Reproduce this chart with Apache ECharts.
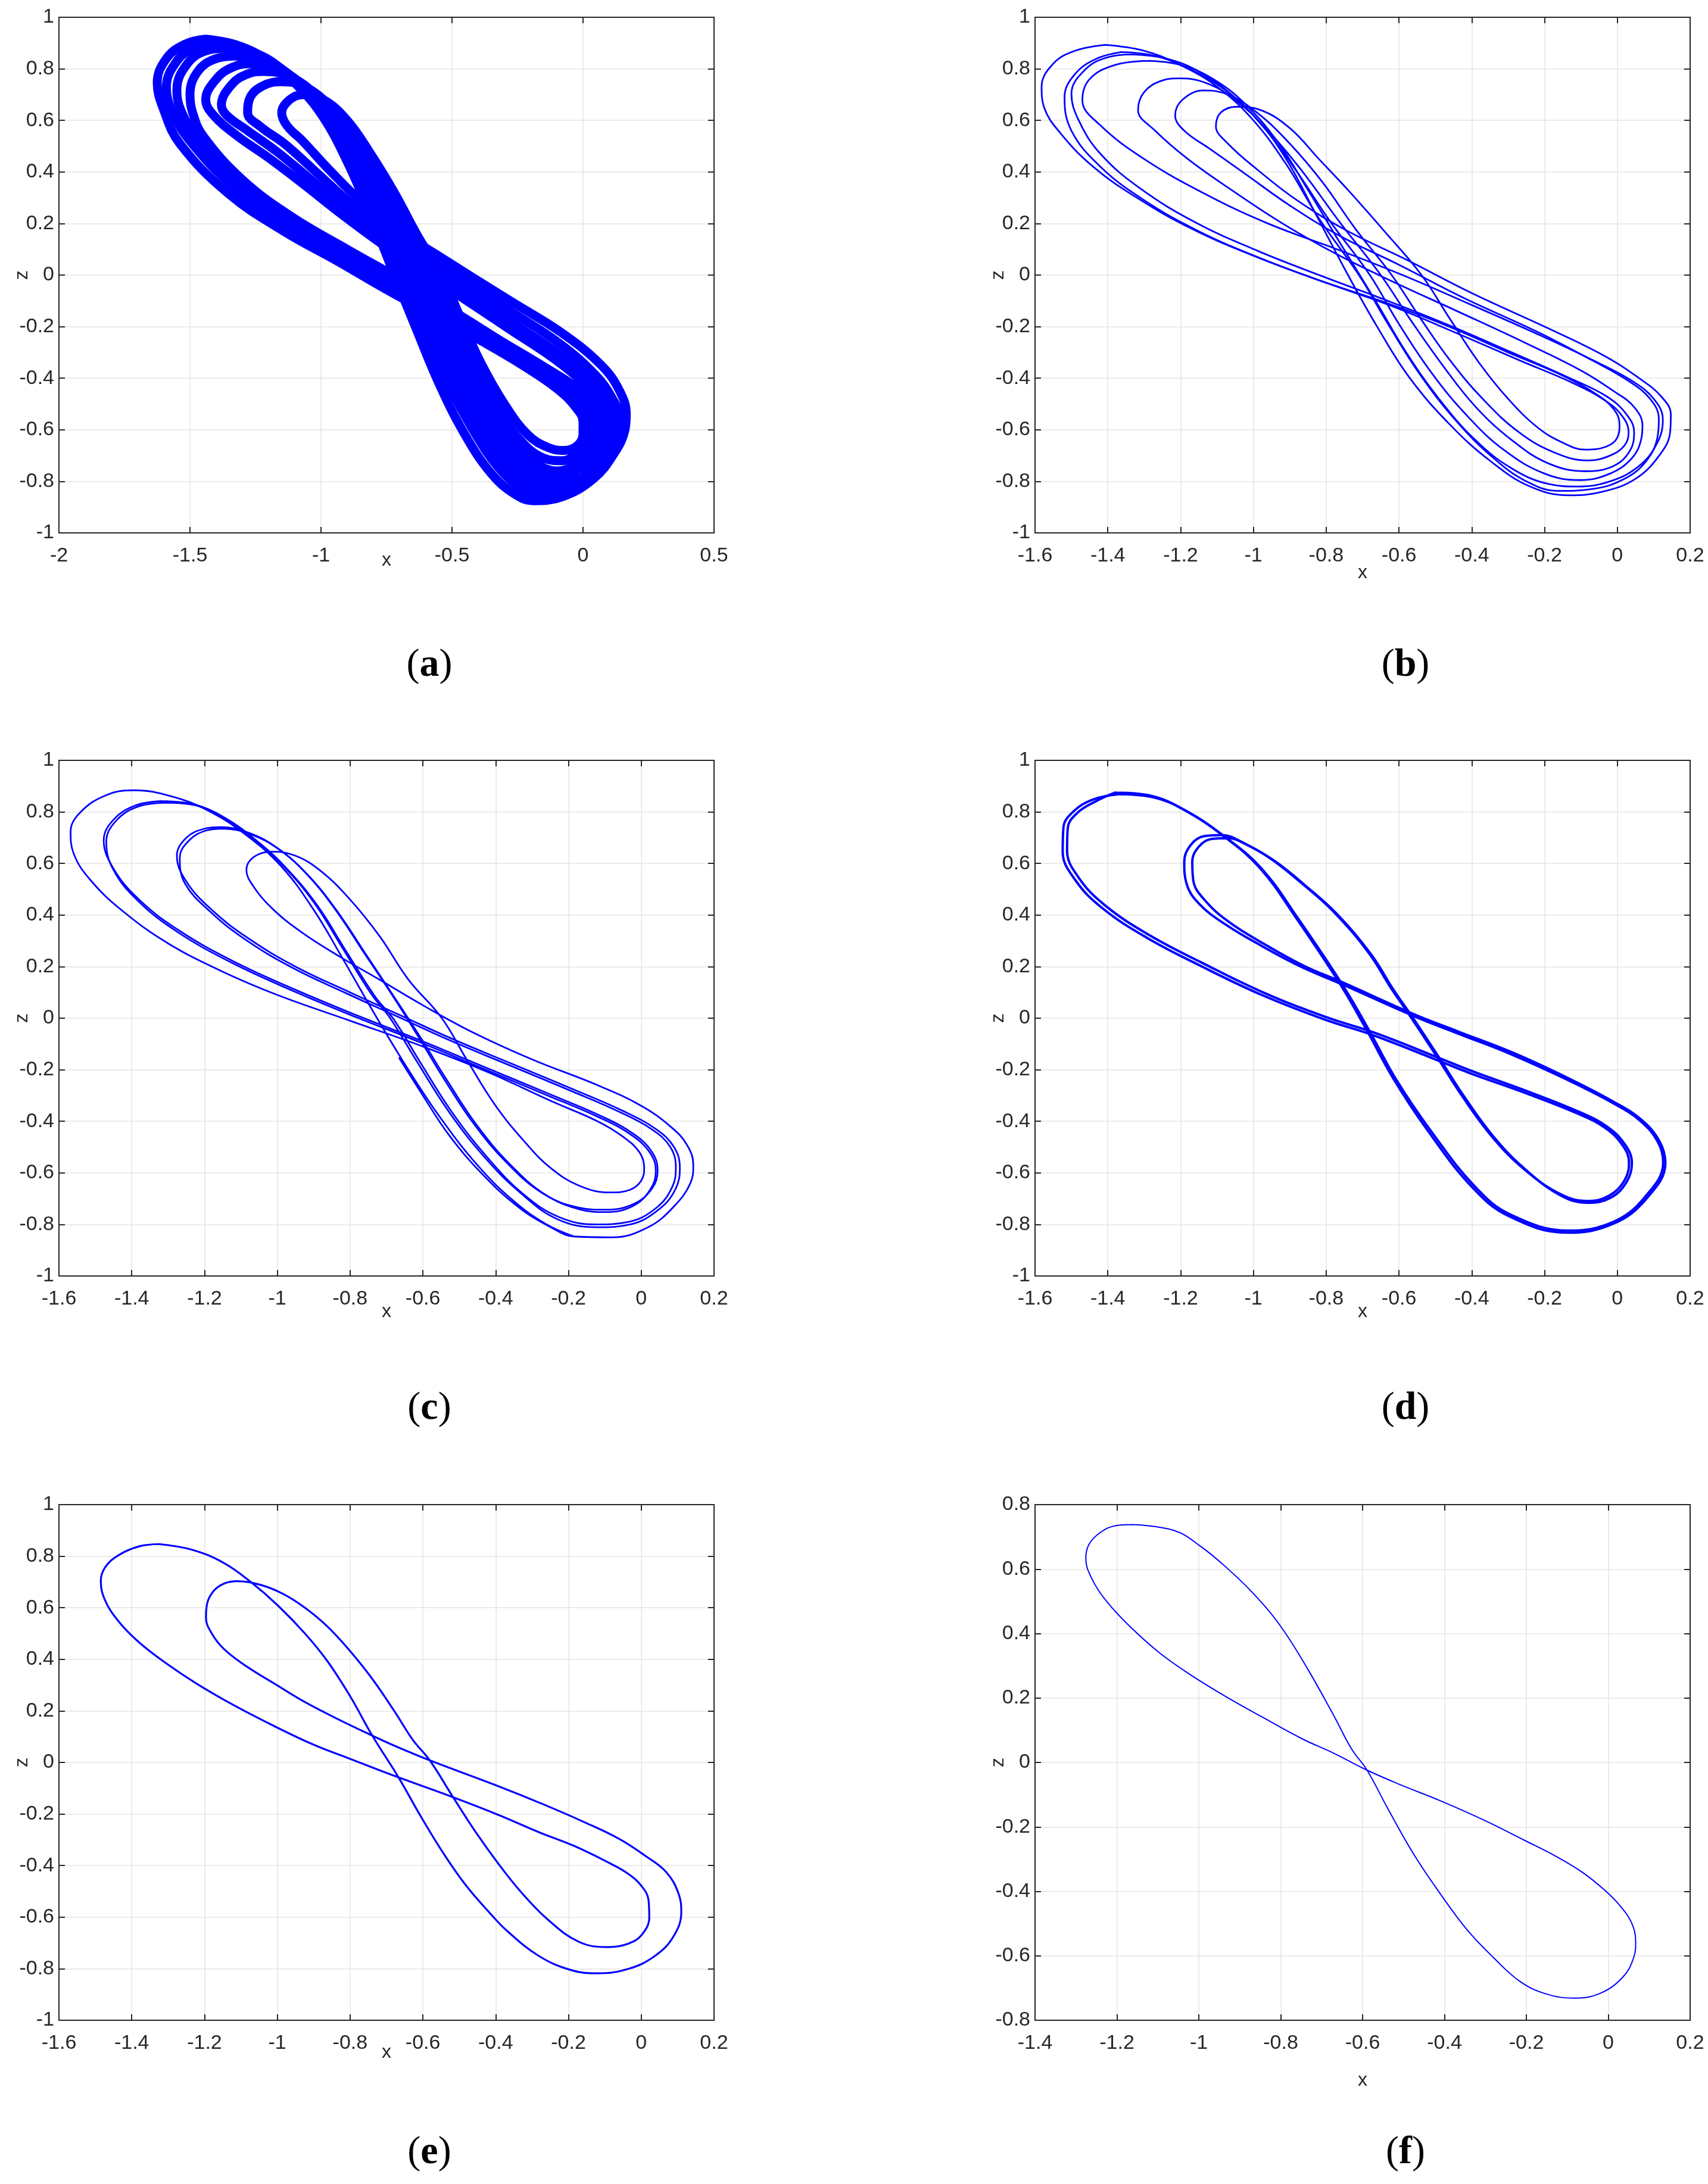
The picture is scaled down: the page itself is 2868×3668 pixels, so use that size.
<!DOCTYPE html>
<html>
<head>
<meta charset="utf-8">
<title>Phase portraits x-z</title>
<script src="https://cdn.jsdelivr.net/npm/echarts/dist/echarts.min.js"></script>
<style>
  body { margin: 0; background: #fff; }
  #main { width: 2868px; height: 3668px; }
</style>
</head>
<body>
<div id="main"></div>
<script>
// axis ranges: [min, max, interval]
var xRangeA = [-2, 0.5, 0.5];
var xRange16 = [-1.6, 0.2, 0.2];
var xRange14 = [-1.4, 0.2, 0.2];
var yRangeFull = [-1, 1, 0.2];
var yRange08 = [-0.8, 0.8, 0.2];
var panelLabels = ['a', 'b', 'c', 'd', 'e', 'f'];

// (a) dense chaotic band, traced as four two-turn orbits
var aOrbit1 = [[-1.440,0.915],[-1.320,0.892],[-1.200,0.830],[-1.090,0.735],[-0.990,0.610],[-0.900,0.440],[-0.810,0.230],[-0.720,0.000],[-0.640,-0.200],[-0.550,-0.420],[-0.450,-0.620],[-0.350,-0.770],[-0.260,-0.850],[-0.190,-0.875],[-0.080,-0.860],[0.040,-0.790],[0.120,-0.690],[0.160,-0.600],[0.165,-0.540],[0.140,-0.450],[0.070,-0.350],[-0.080,-0.225],[-0.270,-0.105],[-0.420,-0.010],[-0.560,0.080],[-0.700,0.170],[-0.840,0.280],[-0.970,0.410],[-1.070,0.520],[-1.130,0.580],[-1.150,0.630],[-1.120,0.680],[-1.070,0.700],[-0.990,0.680],[-0.900,0.600],[-0.810,0.470],[-0.720,0.320],[-0.630,0.150],[-0.540,0.000],[-0.470,-0.160],[-0.390,-0.340],[-0.300,-0.500],[-0.210,-0.620],[-0.130,-0.670],[-0.070,-0.680],[-0.020,-0.660],[0.000,-0.615],[0.000,-0.570],[-0.030,-0.510],[-0.100,-0.440],[-0.230,-0.350],[-0.380,-0.260],[-0.560,-0.160],[-0.726,-0.070],[-0.934,0.052],[-1.142,0.170],[-1.351,0.314],[-1.538,0.509],[-1.600,0.640],[-1.625,0.746],[-1.590,0.840],[-1.520,0.895],[-1.440,0.915]];
var aOrbit2 = [[-1.400,0.900],[-1.290,0.880],[-1.180,0.815],[-1.070,0.720],[-0.970,0.590],[-0.880,0.420],[-0.790,0.210],[-0.690,0.000],[-0.610,-0.200],[-0.520,-0.410],[-0.420,-0.600],[-0.320,-0.750],[-0.230,-0.830],[-0.160,-0.860],[-0.060,-0.845],[0.040,-0.780],[0.110,-0.690],[0.140,-0.610],[0.140,-0.560],[0.110,-0.475],[0.045,-0.385],[-0.090,-0.265],[-0.270,-0.145],[-0.440,-0.035],[-0.600,0.065],[-0.760,0.170],[-0.900,0.290],[-1.030,0.410],[-1.140,0.510],[-1.230,0.575],[-1.280,0.630],[-1.270,0.690],[-1.220,0.735],[-1.150,0.750],[-1.060,0.730],[-0.970,0.660],[-0.890,0.560],[-0.810,0.430],[-0.730,0.290],[-0.650,0.150],[-0.570,0.000],[-0.500,-0.160],[-0.420,-0.340],[-0.330,-0.510],[-0.240,-0.640],[-0.150,-0.710],[-0.080,-0.720],[-0.020,-0.690],[0.020,-0.640],[0.030,-0.580],[0.000,-0.510],[-0.070,-0.440],[-0.200,-0.350],[-0.370,-0.250],[-0.550,-0.140],[-0.720,-0.040],[-0.920,0.075],[-1.130,0.195],[-1.330,0.340],[-1.500,0.520],[-1.570,0.640],[-1.590,0.730],[-1.550,0.830],[-1.480,0.885],[-1.400,0.900]];
var aOrbit3 = [[-1.360,0.880],[-1.250,0.860],[-1.150,0.800],[-1.050,0.705],[-0.950,0.570],[-0.860,0.400],[-0.770,0.200],[-0.665,0.000],[-0.590,-0.200],[-0.500,-0.400],[-0.400,-0.590],[-0.300,-0.730],[-0.210,-0.810],[-0.140,-0.840],[-0.040,-0.820],[0.050,-0.750],[0.100,-0.660],[0.120,-0.570],[0.095,-0.490],[0.030,-0.410],[-0.100,-0.300],[-0.270,-0.185],[-0.440,-0.070],[-0.600,0.035],[-0.760,0.140],[-0.910,0.260],[-1.050,0.380],[-1.170,0.480],[-1.280,0.560],[-1.360,0.620],[-1.380,0.660],[-1.340,0.740],[-1.280,0.780],[-1.220,0.790],[-1.120,0.770],[-1.020,0.700],[-0.930,0.590],[-0.850,0.450],[-0.770,0.300],[-0.690,0.170],[-0.600,0.000],[-0.530,-0.160],[-0.450,-0.350],[-0.360,-0.520],[-0.270,-0.650],[-0.180,-0.730],[-0.100,-0.760],[-0.020,-0.730],[0.040,-0.660],[0.060,-0.580],[0.030,-0.510],[-0.040,-0.440],[-0.170,-0.355],[-0.350,-0.245],[-0.530,-0.130],[-0.710,-0.020],[-0.910,0.095],[-1.120,0.215],[-1.310,0.360],[-1.470,0.530],[-1.535,0.640],[-1.550,0.720],[-1.510,0.820],[-1.440,0.870],[-1.360,0.880]];
var aOrbit4 = [[-1.320,0.850],[-1.210,0.830],[-1.110,0.770],[-1.010,0.680],[-0.920,0.550],[-0.830,0.380],[-0.740,0.190],[-0.640,0.000],[-0.565,-0.200],[-0.480,-0.390],[-0.380,-0.570],[-0.280,-0.710],[-0.190,-0.790],[-0.120,-0.820],[-0.030,-0.800],[0.050,-0.730],[0.090,-0.650],[0.100,-0.580],[0.075,-0.500],[0.010,-0.425],[-0.110,-0.325],[-0.280,-0.210],[-0.450,-0.095],[-0.600,0.005],[-0.760,0.115],[-0.920,0.235],[-1.070,0.355],[-1.200,0.455],[-1.320,0.540],[-1.410,0.620],[-1.440,0.680],[-1.400,0.760],[-1.340,0.805],[-1.270,0.820],[-1.170,0.800],[-1.070,0.730],[-0.970,0.620],[-0.880,0.480],[-0.800,0.330],[-0.710,0.160],[-0.620,0.000],[-0.550,-0.170],[-0.470,-0.360],[-0.380,-0.540],[-0.290,-0.670],[-0.200,-0.750],[-0.110,-0.790],[-0.030,-0.760],[0.040,-0.690],[0.075,-0.620],[0.080,-0.580],[0.050,-0.510],[-0.020,-0.440],[-0.150,-0.355],[-0.330,-0.245],[-0.510,-0.130],[-0.700,-0.015],[-0.900,0.100],[-1.110,0.225],[-1.300,0.370],[-1.450,0.540],[-1.490,0.630],[-1.500,0.700],[-1.470,0.790],[-1.400,0.840],[-1.320,0.850]];

// (b)
var bOrbit1 = [[-1.407,0.893],[-1.300,0.870],[-1.200,0.815],[-1.100,0.740],[-1.000,0.620],[-0.910,0.450],[-0.830,0.240],[-0.740,0.000],[-0.660,-0.200],[-0.570,-0.400],[-0.460,-0.580],[-0.350,-0.720],[-0.240,-0.820],[-0.133,-0.854],[-0.040,-0.840],[0.050,-0.790],[0.115,-0.700],[0.145,-0.610],[0.147,-0.541],[0.120,-0.470],[0.060,-0.400],[-0.040,-0.310],[-0.200,-0.200],[-0.400,-0.070],[-0.580,0.060],[-0.740,0.170],[-0.880,0.290],[-0.990,0.410],[-1.070,0.510],[-1.103,0.577],[-1.090,0.630],[-1.047,0.653],[-0.980,0.640],[-0.900,0.570],[-0.820,0.450],[-0.740,0.330],[-0.640,0.170],[-0.538,0.000],[-0.460,-0.170],[-0.380,-0.340],[-0.300,-0.480],[-0.220,-0.590],[-0.150,-0.650],[-0.088,-0.677],[-0.030,-0.665],[0.000,-0.630],[0.006,-0.580],[-0.010,-0.520],[-0.060,-0.460],[-0.150,-0.390],[-0.300,-0.300],[-0.480,-0.190],[-0.650,-0.100],[-0.820,-0.020],[-1.000,0.075],[-1.170,0.180],[-1.320,0.300],[-1.440,0.420],[-1.530,0.550],[-1.575,0.650],[-1.582,0.730],[-1.550,0.820],[-1.490,0.870],[-1.407,0.893]];
var bOrbit2 = [[-1.362,0.865],[-1.270,0.850],[-1.180,0.800],[-1.090,0.720],[-1.000,0.600],[-0.910,0.430],[-0.820,0.220],[-0.710,0.000],[-0.630,-0.190],[-0.540,-0.390],[-0.440,-0.570],[-0.340,-0.710],[-0.250,-0.800],[-0.163,-0.837],[-0.070,-0.830],[0.020,-0.790],[0.080,-0.720],[0.110,-0.630],[0.114,-0.558],[0.090,-0.480],[0.030,-0.410],[-0.070,-0.330],[-0.220,-0.220],[-0.420,-0.090],[-0.600,0.040],[-0.760,0.150],[-0.900,0.270],[-1.020,0.390],[-1.120,0.490],[-1.190,0.560],[-1.215,0.619],[-1.195,0.680],[-1.137,0.716],[-1.070,0.700],[-0.990,0.630],[-0.900,0.510],[-0.810,0.360],[-0.720,0.180],[-0.620,0.000],[-0.540,-0.170],[-0.460,-0.330],[-0.370,-0.480],[-0.270,-0.610],[-0.170,-0.690],[-0.081,-0.719],[-0.020,-0.700],[0.020,-0.660],[0.031,-0.610],[0.015,-0.550],[-0.030,-0.490],[-0.120,-0.420],[-0.270,-0.330],[-0.450,-0.220],[-0.620,-0.120],[-0.800,-0.030],[-0.980,0.065],[-1.150,0.170],[-1.300,0.290],[-1.420,0.420],[-1.500,0.560],[-1.519,0.690],[-1.490,0.780],[-1.430,0.840],[-1.362,0.865]];
var bOrbit3 = [[-1.332,0.856],[-1.240,0.840],[-1.150,0.790],[-1.060,0.700],[-0.970,0.570],[-0.880,0.400],[-0.790,0.210],[-0.680,0.000],[-0.600,-0.190],[-0.510,-0.380],[-0.410,-0.550],[-0.310,-0.680],[-0.200,-0.770],[-0.103,-0.795],[-0.020,-0.770],[0.040,-0.710],[0.065,-0.640],[0.069,-0.583],[0.045,-0.510],[-0.010,-0.450],[-0.100,-0.370],[-0.250,-0.265],[-0.440,-0.140],[-0.610,-0.030],[-0.770,0.080],[-0.920,0.200],[-1.060,0.330],[-1.180,0.450],[-1.270,0.560],[-1.317,0.640],[-1.300,0.710],[-1.250,0.755],[-1.204,0.763],[-1.130,0.745],[-1.050,0.680],[-0.960,0.560],[-0.870,0.410],[-0.760,0.200],[-0.650,0.000],[-0.570,-0.170],[-0.480,-0.350],[-0.390,-0.510],[-0.290,-0.640],[-0.190,-0.730],[-0.088,-0.761],[-0.010,-0.740],[0.035,-0.680],[0.046,-0.609],[0.025,-0.540],[-0.030,-0.470],[-0.130,-0.400],[-0.290,-0.300],[-0.470,-0.190],[-0.640,-0.095],[-0.810,-0.005],[-0.990,0.095],[-1.160,0.205],[-1.310,0.335],[-1.420,0.470],[-1.480,0.600],[-1.500,0.704],[-1.460,0.800],[-1.400,0.845],[-1.332,0.856]];
var bOrbit4 = [[-1.287,0.831],[-1.200,0.815],[-1.110,0.760],[-1.020,0.660],[-0.930,0.510],[-0.850,0.330],[-0.760,0.120],[-0.660,-0.110],[-0.580,-0.300],[-0.490,-0.480],[-0.390,-0.640],[-0.290,-0.750],[-0.190,-0.810],[-0.110,-0.820],[-0.020,-0.800],[0.060,-0.740],[0.110,-0.650],[0.125,-0.560],[0.100,-0.480],[0.040,-0.410],[-0.060,-0.335],[-0.210,-0.235],[-0.410,-0.110],[-0.590,0.000],[-0.770,0.100],[-0.960,0.200],[-1.140,0.320],[-1.300,0.450],[-1.420,0.580],[-1.470,0.678],[-1.450,0.760],[-1.380,0.815],[-1.287,0.831]];

// (c)
var cOrbit1 = [[-0.665,-0.155],[-0.600,-0.300],[-0.530,-0.450],[-0.440,-0.600],[-0.340,-0.730],[-0.250,-0.810],[-0.184,-0.847],[-0.080,-0.850],[0.020,-0.810],[0.090,-0.730],[0.135,-0.640],[0.143,-0.570],[0.125,-0.490],[0.080,-0.420],[0.000,-0.340],[-0.120,-0.260],[-0.300,-0.160],[-0.470,-0.050],[-0.600,0.050],[-0.720,0.150],[-0.830,0.240],[-0.930,0.330],[-1.010,0.420],[-1.065,0.510],[-1.085,0.575],[-1.065,0.625],[-1.016,0.646],[-0.950,0.630],[-0.880,0.570],[-0.800,0.460],[-0.720,0.320],[-0.640,0.150],[-0.548,0.000],[-0.480,-0.160],[-0.400,-0.340],[-0.320,-0.480],[-0.250,-0.580],[-0.170,-0.650],[-0.085,-0.676],[-0.030,-0.665],[0.000,-0.630],[0.008,-0.580],[-0.005,-0.520],[-0.050,-0.460],[-0.120,-0.400],[-0.250,-0.320],[-0.420,-0.210],[-0.600,-0.110],[-0.800,-0.010],[-1.000,0.090],[-1.150,0.180],[-1.300,0.290],[-1.420,0.410],[-1.510,0.530],[-1.560,0.640],[-1.568,0.723],[-1.540,0.800],[-1.470,0.865],[-1.393,0.884],[-1.290,0.860],[-1.190,0.805],[-1.090,0.715],[-0.990,0.590],[-0.900,0.420],[-0.820,0.230],[-0.726,0.000],[-0.640,-0.200],[-0.550,-0.390],[-0.450,-0.570],[-0.350,-0.710],[-0.260,-0.800],[-0.184,-0.847]];
var cOrbit2 = [[-1.319,0.842],[-1.230,0.830],[-1.150,0.780],[-1.070,0.700],[-0.990,0.600],[-0.900,0.450],[-0.820,0.270],[-0.740,0.090],[-0.690,0.000],[-0.620,-0.160],[-0.530,-0.360],[-0.430,-0.540],[-0.330,-0.680],[-0.230,-0.780],[-0.122,-0.811],[-0.030,-0.800],[0.050,-0.740],[0.095,-0.660],[0.106,-0.580],[0.090,-0.500],[0.040,-0.430],[-0.050,-0.360],[-0.180,-0.280],[-0.350,-0.180],[-0.520,-0.080],[-0.660,0.010],[-0.800,0.100],[-0.950,0.200],[-1.080,0.310],[-1.180,0.420],[-1.250,0.530],[-1.276,0.630],[-1.250,0.700],[-1.200,0.735],[-1.158,0.741],[-1.080,0.720],[-1.000,0.660],[-0.920,0.560],[-0.840,0.420],[-0.760,0.250],[-0.680,0.080],[-0.609,-0.080],[-0.540,-0.240],[-0.460,-0.410],[-0.370,-0.560],[-0.270,-0.680],[-0.170,-0.735],[-0.097,-0.743],[-0.020,-0.720],[0.030,-0.660],[0.045,-0.590],[0.030,-0.520],[-0.020,-0.450],[-0.110,-0.380],[-0.260,-0.290],[-0.430,-0.190],[-0.600,-0.090],[-0.780,0.010],[-0.950,0.110],[-1.120,0.220],[-1.270,0.340],[-1.380,0.460],[-1.450,0.580],[-1.477,0.690],[-1.450,0.770],[-1.390,0.825],[-1.319,0.842]];
var cOrbit3 = [[-1.300,0.836],[-1.215,0.822],[-1.138,0.772],[-1.060,0.692],[-0.982,0.592],[-0.893,0.443],[-0.812,0.262],[-0.732,0.085],[-0.680,-0.005],[-0.610,-0.165],[-0.520,-0.365],[-0.420,-0.545],[-0.322,-0.685],[-0.225,-0.772],[-0.125,-0.800],[-0.035,-0.790],[0.042,-0.735],[0.085,-0.655],[0.095,-0.578],[0.080,-0.500],[0.030,-0.432],[-0.058,-0.365],[-0.188,-0.285],[-0.358,-0.185],[-0.528,-0.085],[-0.668,0.005],[-0.808,0.095],[-0.958,0.195],[-1.088,0.305],[-1.186,0.415],[-1.254,0.523],[-1.268,0.622],[-1.242,0.690],[-1.195,0.728],[-1.152,0.735],[-1.075,0.714],[-0.995,0.654],[-0.915,0.554],[-0.835,0.414],[-0.755,0.244],[-0.675,0.074],[-0.602,-0.085],[-0.532,-0.245],[-0.452,-0.415],[-0.362,-0.565],[-0.264,-0.684],[-0.168,-0.742],[-0.098,-0.752],[-0.022,-0.728],[0.025,-0.664],[0.040,-0.592],[0.025,-0.524],[-0.025,-0.455],[-0.114,-0.386],[-0.264,-0.296],[-0.434,-0.196],[-0.604,-0.096],[-0.784,0.004],[-0.954,0.104],[-1.124,0.214],[-1.274,0.334],[-1.382,0.454],[-1.450,0.574],[-1.470,0.684],[-1.444,0.764],[-1.384,0.820],[-1.300,0.836]];

// (d)
var dOrbit1 = [[-1.368,0.869],[-1.270,0.855],[-1.180,0.800],[-1.074,0.699],[-0.976,0.578],[-0.878,0.388],[-0.756,0.131],[-0.683,-0.045],[-0.609,-0.235],[-0.512,-0.438],[-0.390,-0.655],[-0.292,-0.763],[-0.133,-0.824],[-0.011,-0.790],[0.075,-0.695],[0.126,-0.560],[0.111,-0.479],[0.062,-0.397],[-0.011,-0.330],[-0.133,-0.242],[-0.292,-0.140],[-0.439,-0.059],[-0.561,0.009],[-0.756,0.131],[-0.867,0.198],[-0.977,0.280],[-1.074,0.361],[-1.148,0.442],[-1.184,0.523],[-1.190,0.605],[-1.172,0.672],[-1.135,0.706],[-1.087,0.710],[-1.026,0.679],[-0.952,0.618],[-0.867,0.523],[-0.781,0.415],[-0.683,0.253],[-0.622,0.117],[-0.573,0.016],[-0.500,-0.140],[-0.426,-0.303],[-0.341,-0.465],[-0.255,-0.587],[-0.157,-0.682],[-0.084,-0.709],[-0.023,-0.689],[0.020,-0.628],[0.032,-0.560],[0.014,-0.492],[-0.035,-0.424],[-0.109,-0.370],[-0.255,-0.289],[-0.402,-0.215],[-0.500,-0.160],[-0.671,-0.066],[-0.805,-0.005],[-0.977,0.090],[-1.148,0.205],[-1.294,0.313],[-1.417,0.429],[-1.490,0.537],[-1.524,0.645],[-1.522,0.740],[-1.495,0.801],[-1.441,0.848],[-1.368,0.869]];
var dOrbit2 = [[-1.380,0.875],[-1.280,0.862],[-1.188,0.806],[-1.080,0.704],[-0.982,0.582],[-0.884,0.392],[-0.762,0.133],[-0.690,-0.043],[-0.616,-0.233],[-0.520,-0.438],[-0.398,-0.657],[-0.298,-0.768],[-0.138,-0.832],[-0.012,-0.798],[0.080,-0.700],[0.132,-0.562],[0.116,-0.478],[0.066,-0.394],[-0.008,-0.326],[-0.130,-0.236],[-0.290,-0.132],[-0.437,-0.052],[-0.560,0.016],[-0.752,0.137],[-0.864,0.205],[-0.972,0.289],[-1.066,0.372],[-1.132,0.455],[-1.165,0.533],[-1.168,0.606],[-1.150,0.665],[-1.115,0.695],[-1.070,0.698],[-1.012,0.668],[-0.940,0.608],[-0.857,0.514],[-0.772,0.406],[-0.676,0.246],[-0.615,0.110],[-0.566,0.010],[-0.493,-0.146],[-0.418,-0.310],[-0.334,-0.470],[-0.250,-0.590],[-0.155,-0.688],[-0.082,-0.716],[-0.018,-0.696],[0.026,-0.634],[0.040,-0.562],[0.021,-0.490],[-0.029,-0.420],[-0.104,-0.364],[-0.250,-0.282],[-0.396,-0.207],[-0.494,-0.152],[-0.664,-0.058],[-0.798,0.003],[-0.970,0.098],[-1.140,0.214],[-1.286,0.322],[-1.408,0.438],[-1.480,0.545],[-1.512,0.650],[-1.510,0.738],[-1.484,0.796],[-1.432,0.842],[-1.380,0.875]];

// (e) period-2
var eOrbit = [[-1.325,0.847],[-1.232,0.824],[-1.146,0.773],[-1.072,0.699],[-0.998,0.608],[-0.924,0.500],[-0.862,0.392],[-0.800,0.257],[-0.739,0.104],[-0.667,-0.058],[-0.603,-0.216],[-0.541,-0.358],[-0.480,-0.480],[-0.418,-0.581],[-0.369,-0.653],[-0.282,-0.750],[-0.196,-0.804],[-0.122,-0.818],[-0.036,-0.801],[0.038,-0.750],[0.088,-0.676],[0.110,-0.581],[0.102,-0.507],[0.069,-0.426],[0.014,-0.365],[-0.060,-0.297],[-0.159,-0.230],[-0.270,-0.162],[-0.406,-0.085],[-0.581,0.008],[-0.677,0.064],[-0.739,0.104],[-0.825,0.162],[-0.924,0.234],[-0.998,0.297],[-1.084,0.372],[-1.146,0.439],[-1.180,0.500],[-1.196,0.561],[-1.193,0.615],[-1.175,0.665],[-1.146,0.694],[-1.111,0.703],[-1.047,0.689],[-0.986,0.655],[-0.924,0.600],[-0.862,0.527],[-0.800,0.432],[-0.739,0.324],[-0.677,0.196],[-0.628,0.088],[-0.581,0.008],[-0.517,-0.135],[-0.455,-0.270],[-0.393,-0.392],[-0.332,-0.500],[-0.258,-0.608],[-0.171,-0.696],[-0.091,-0.716],[-0.036,-0.703],[0.001,-0.669],[0.022,-0.601],[0.020,-0.534],[0.001,-0.480],[-0.036,-0.432],[-0.085,-0.392],[-0.184,-0.324],[-0.282,-0.270],[-0.393,-0.203],[-0.517,-0.135],[-0.667,-0.058],[-0.800,0.014],[-0.899,0.068],[-1.010,0.142],[-1.121,0.223],[-1.220,0.304],[-1.306,0.385],[-1.380,0.466],[-1.436,0.547],[-1.473,0.628],[-1.485,0.703],[-1.473,0.757],[-1.436,0.804],[-1.380,0.838],[-1.325,0.847]];

// (f) period-1
var fOrbit = [[-1.164,0.738],[-1.061,0.720],[-0.996,0.671],[-0.931,0.603],[-0.866,0.523],[-0.801,0.424],[-0.736,0.294],[-0.671,0.147],[-0.627,0.042],[-0.589,-0.024],[-0.541,-0.137],[-0.475,-0.285],[-0.410,-0.408],[-0.345,-0.519],[-0.280,-0.606],[-0.215,-0.680],[-0.150,-0.719],[-0.085,-0.731],[-0.021,-0.717],[0.035,-0.667],[0.062,-0.606],[0.067,-0.556],[0.056,-0.495],[0.029,-0.445],[-0.009,-0.396],[-0.063,-0.341],[-0.128,-0.291],[-0.204,-0.242],[-0.302,-0.180],[-0.410,-0.119],[-0.508,-0.069],[-0.589,-0.024],[-0.671,0.029],[-0.747,0.073],[-0.844,0.140],[-0.931,0.202],[-1.018,0.270],[-1.094,0.338],[-1.170,0.424],[-1.224,0.498],[-1.262,0.572],[-1.276,0.634],[-1.268,0.677],[-1.240,0.714],[-1.202,0.735],[-1.164,0.738]];

var myChart = echarts.init(document.getElementById('main'));

var tickFont = "'Liberation Sans Narrow', 'Liberation Sans', Arial, sans-serif";
var axisColor = '#262626';
var gridColor = '#e4e4e4';

var panels = [
    { left: 99,   top: 29,   xr: xRangeA,  yr: yRangeFull, orbits: [aOrbit1, aOrbit2, aOrbit3, aOrbit4], w: 15,  xGap: 30 },
    { left: 1738, top: 29,   xr: xRange16, yr: yRangeFull, orbits: [bOrbit1, bOrbit2, bOrbit3, bOrbit4], w: 2.8, xGap: 51 },
    { left: 99,   top: 1277, xr: xRange16, yr: yRangeFull, orbits: [cOrbit1, cOrbit2, cOrbit3], w: 2.8, xGap: 44 },
    { left: 1738, top: 1277, xr: xRange16, yr: yRangeFull, orbits: [dOrbit1, dOrbit2], w: 4, xGap: 44 },
    { left: 99,   top: 2527, xr: xRange16, yr: yRangeFull, orbits: [eOrbit], w: 3.2, xGap: 38 },
    { left: 1738, top: 2527, xr: xRange14, yr: yRange08,   orbits: [fOrbit], w: 2, xGap: 85 }
];

function fmt(v) { return String(Math.round(v * 10) / 10); }

function axisCfg(gi, r, pos, main, name, gap) {
    return {
        type: 'value',
        gridIndex: gi,
        position: pos,
        min: r[0], max: r[1], interval: r[2],
        name: main ? name : '',
        nameLocation: 'middle',
        nameGap: gap,
        nameMoveOverlap: false,
        nameRotate: name === 'z' ? 90 : 0,
        nameTextStyle: { fontFamily: tickFont, fontSize: 32, color: axisColor },
        axisLine: { show: true, onZero: false, lineStyle: { color: axisColor, width: 2 } },
        axisTick: { show: true, inside: true, length: 10, lineStyle: { color: axisColor, width: 2 } },
        axisLabel: {
            show: main,
            margin: (name === 'z') ? 8 : 22,
            fontFamily: tickFont, fontSize: 34, color: axisColor,
            formatter: fmt
        },
        splitLine: { show: main, lineStyle: { color: gridColor, width: 1.5 } }
    };
}

var grids = [], xAxes = [], yAxes = [], series = [], texts = [];
panels.forEach(function (p, i) {
    grids.push({ left: p.left, top: p.top, width: 1100, height: 866, containLabel: false });
    xAxes.push(axisCfg(i, p.xr, 'bottom', true, 'x', p.xGap));
    xAxes.push(axisCfg(i, p.xr, 'top', false, '', 0));
    yAxes.push(axisCfg(i, p.yr, 'left', true, 'z', 46));
    yAxes.push(axisCfg(i, p.yr, 'right', false, '', 0));
    p.orbits.forEach(function (orb) {
        series.push({
            type: 'line',
            xAxisIndex: 2 * i,
            yAxisIndex: 2 * i,
            data: orb,
            showSymbol: false,
            symbol: 'none',
            smooth: 0.4,
            silent: true,
            lineStyle: { color: '#0000ff', width: p.w, join: 'round', cap: 'round' }
        });
    });
    texts.push({
        type: 'text',
        x: p.left + 622,
        y: p.top + 1089,
        style: {
            text: '{p|(}{b|' + panelLabels[i] + '}{p|)}',
            align: 'center',
            verticalAlign: 'middle',
            rich: {
                p: { fontFamily: "'Liberation Serif', 'DejaVu Serif', serif", fontSize: 66, fill: '#000' },
                b: { fontFamily: "'Liberation Serif', 'DejaVu Serif', serif", fontSize: 66, fontWeight: 'bold', fill: '#000' }
            }
        }
    });
});

var option = {
    backgroundColor: '#ffffff',
    animation: false,
    grid: grids,
    xAxis: xAxes,
    yAxis: yAxes,
    series: series,
    graphic: texts
};

myChart.setOption(option);
</script>
</body>
</html>
